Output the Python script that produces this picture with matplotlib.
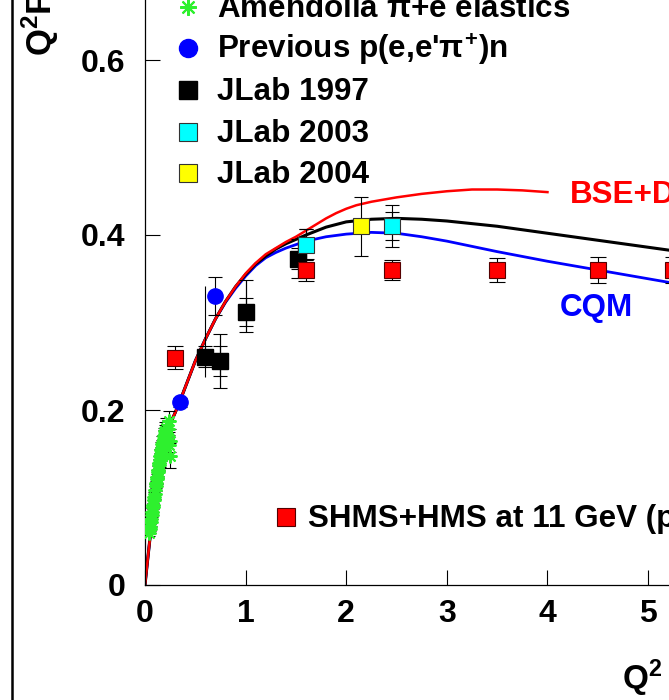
import numpy as np
import matplotlib.pyplot as plt
from matplotlib.lines import Line2D

plt.rcParams['font.family'] = ['Liberation Sans', 'DejaVu Sans']
plt.rcParams['font.weight'] = 'bold'
plt.rcParams['mathtext.fontset'] = 'custom'
plt.rcParams['mathtext.rm'] = 'Liberation Sans:bold'
plt.rcParams['mathtext.bf'] = 'Liberation Sans:bold'
plt.rcParams['mathtext.it'] = 'Liberation Sans:bold'

# model curves
bse_q2 = [0, 0.02, 0.05, 0.1, 0.15, 0.2, 0.25, 0.3, 0.35, 0.4, 0.5, 0.6, 0.7, 0.8, 0.9, 1.0,
          1.1, 1.2, 1.3, 1.4, 1.5, 1.6, 1.7, 1.8, 1.9, 2.0, 2.1, 2.25, 2.5, 2.75, 3.0, 3.25,
          3.5, 3.75, 4.0]
bse_f = [0, 0.022, 0.054, 0.098, 0.133, 0.162, 0.184, 0.197, 0.211, 0.226, 0.256, 0.281, 0.304,
         0.324, 0.341, 0.356, 0.368, 0.378, 0.385, 0.392, 0.398, 0.405, 0.412, 0.419, 0.425,
         0.430, 0.434, 0.438, 0.443, 0.447, 0.450, 0.452, 0.452, 0.451, 0.449]

blk_q2 = [0, 0.02, 0.05, 0.1, 0.15, 0.2, 0.25, 0.3, 0.35, 0.4, 0.5, 0.6, 0.7, 0.8, 0.9, 1.0,
          1.1, 1.2, 1.3, 1.4, 1.5, 1.6, 1.8, 2.0, 2.25, 2.5, 2.75, 3.0, 3.5, 4.0, 4.5, 5.0,
          5.5, 6.0, 6.5]
blk_f = [0, 0.022, 0.054, 0.098, 0.133, 0.162, 0.184, 0.197, 0.211, 0.226, 0.256, 0.281, 0.304,
         0.324, 0.341, 0.355, 0.367, 0.376, 0.384, 0.390, 0.395, 0.400, 0.409, 0.415, 0.418,
         0.419, 0.418, 0.416, 0.410, 0.402, 0.394, 0.386, 0.378, 0.370, 0.362]

cqm_q2 = [0, 0.02, 0.05, 0.1, 0.15, 0.2, 0.25, 0.3, 0.35, 0.4, 0.5, 0.6, 0.7, 0.8, 0.9, 1.0,
          1.1, 1.2, 1.3, 1.4, 1.5, 1.6, 1.8, 2.0, 2.25, 2.5, 2.75, 3.0, 3.5, 4.0, 4.5, 5.0,
          5.5, 6.0, 6.5]
cqm_f = [0, 0.022, 0.054, 0.098, 0.133, 0.162, 0.184, 0.197, 0.211, 0.226, 0.256, 0.281, 0.304,
         0.323, 0.339, 0.353, 0.365, 0.374, 0.380, 0.385, 0.389, 0.393, 0.398, 0.401, 0.403,
         0.402, 0.398, 0.393, 0.381, 0.370, 0.360, 0.350, 0.340, 0.330, 0.320]

# Amendolia pi+e elastic scattering
am_q2 = [0.040, 0.046, 0.052, 0.058, 0.063, 0.067, 0.072, 0.078, 0.083, 0.088, 0.092, 0.097,
         0.103, 0.108, 0.112, 0.117, 0.122, 0.127, 0.133, 0.138, 0.142, 0.147, 0.153, 0.158,
         0.163, 0.168, 0.173, 0.178, 0.184, 0.190, 0.196, 0.203, 0.210, 0.218, 0.226, 0.235,
         0.240, 0.244, 0.250]
am_f = [0.060, 0.064, 0.066, 0.072, 0.075, 0.080, 0.083, 0.089, 0.092, 0.097, 0.101, 0.104,
        0.109, 0.113, 0.117, 0.121, 0.124, 0.129, 0.132, 0.137, 0.140, 0.143, 0.147, 0.150,
        0.154, 0.157, 0.161, 0.163, 0.167, 0.170, 0.173, 0.176, 0.180, 0.171, 0.178, 0.160,
        0.187, 0.148, 0.165]
am_err = [0.004, 0.004, 0.004, 0.004, 0.004, 0.004, 0.005, 0.005, 0.005, 0.005, 0.005, 0.006,
          0.006, 0.006, 0.006, 0.006, 0.007, 0.007, 0.007, 0.007, 0.008, 0.008, 0.008, 0.008,
          0.009, 0.009, 0.009, 0.009, 0.010, 0.010, 0.010, 0.010, 0.011, 0.011, 0.011, 0.012,
          0.012, 0.014, 0.013]

# previous p(e,e'pi+)n
prev_q2 = [0.35, 0.70]
prev_f = [0.209, 0.330]
prev_err = [0.005, 0.022]

# JLab 1997
j97_q2 = [0.60, 0.75, 1.00, 1.52]
j97_f = [0.261, 0.256, 0.312, 0.373]
j97_stat = [0.012, 0.017, 0.016, 0.012]
j97_lo = [0.023, 0.031, 0.023, 0.022]
j97_hi = [0.081, 0.031, 0.037, 0.022]

# JLab 2003
j03_q2 = [1.60, 2.45]
j03_f = [0.389, 0.410]
j03_stat = [0.018, 0.016]
j03_tot = [0.018, 0.024]

# JLab 2004
j04_q2 = [2.15]
j04_f = [0.410]
j04_err = [0.034]

# SHMS+HMS projection
shms_q2 = [0.30, 1.60, 2.45, 3.50, 4.50, 5.25]
shms_f = [0.260, 0.360, 0.360, 0.360, 0.360, 0.360]
shms_err = [0.013, 0.012, 0.011, 0.014, 0.015, 0.015]

fig = plt.figure(figsize=(6.69, 7.0), dpi=100)
ax = fig.add_axes([145 / 669, 115 / 700, 654 / 669, 1.0])
ax.set_xlim(0, 6.5)
ax.set_ylim(0, 0.8)

green = '#2ef02e'

# curves
ax.plot(cqm_q2, cqm_f, color='blue', lw=2.0, zorder=2)
ax.plot(blk_q2, blk_f, color='black', lw=2.2, zorder=2)
ax.plot(bse_q2, bse_f, color='red', lw=1.8, zorder=2)

eb = dict(fmt='none', ecolor='black', elinewidth=0.8, capthick=0.8, zorder=3)

# Amendolia
ax.errorbar(am_q2, am_f, yerr=am_err, capsize=4.5, **eb)
ax.plot(am_q2, am_f, ls='none', marker=(8, 2, 0), ms=10, mew=1.5, color=green, zorder=4)

# JLab 1997
ax.vlines(j97_q2, np.array(j97_f) - np.array(j97_lo), np.array(j97_f) + np.array(j97_hi),
          color='black', lw=0.8, zorder=3)
ax.errorbar(j97_q2[1:], j97_f[1:], yerr=[j97_lo[1:], j97_hi[1:]], capsize=5, **eb)
ax.errorbar(j97_q2, j97_f, yerr=j97_stat, capsize=5, **eb)
ax.plot(j97_q2, j97_f, ls='none', marker='s', ms=11, mfc='black', mec='black', zorder=5)

# previous
ax.errorbar(prev_q2, prev_f, yerr=prev_err, capsize=5, **eb)
ax.plot(prev_q2, prev_f, ls='none', marker='o', ms=11, mfc='blue', mec='blue', zorder=5)

# JLab 2003 / 2004
ax.errorbar(j03_q2, j03_f, yerr=j03_tot, capsize=5, **eb)
ax.errorbar(j03_q2, j03_f, yerr=j03_stat, capsize=5, **eb)
ax.plot(j03_q2, j03_f, ls='none', marker='s', ms=11, mfc='cyan', mec='#333333', mew=0.8, zorder=6)
ax.errorbar(j04_q2, j04_f, yerr=j04_err, capsize=5, **eb)
ax.plot(j04_q2, j04_f, ls='none', marker='s', ms=11, mfc='yellow', mec='#333333', mew=0.8, zorder=6)

# projections
ax.errorbar(shms_q2, shms_f, yerr=shms_err, capsize=6, **eb)
ax.plot(shms_q2, shms_f, ls='none', marker='s', ms=12, mfc='red', mec='#550000', mew=0.8, zorder=5)

# legend block
fs = 22.6
leg_x, txt_x = 0.427, 0.716
rows = [0.661, 0.614, 0.566, 0.518, 0.471]
ax.plot(leg_x, rows[0], marker=(8, 2, 0), ms=12, mew=1.5, color=green, clip_on=False)
ax.plot(leg_x, rows[1], marker='o', ms=13, color='blue', clip_on=False)
ax.plot(leg_x, rows[2], marker='s', ms=13, color='black', clip_on=False)
ax.plot(leg_x, rows[3], marker='s', ms=13, mfc='cyan', mec='#333333', mew=0.8, clip_on=False)
ax.plot(leg_x, rows[4], marker='s', ms=13, mfc='yellow', mec='#333333', mew=0.8, clip_on=False)
labels = [r'Amendolia $\pi$+e elastics', r"Previous p(e,e'$\pi^{+}$)n",
          'JLab 1997', 'JLab 2003', 'JLab 2004']
for y, lab in zip(rows, labels):
    ax.text(txt_x, y - 0.012, lab, fontsize=fs, fontweight='bold', va='baseline', ha='left')

ax.plot(1.40, 0.0777, marker='s', ms=13, mfc='red', mec='#550000', mew=0.8)
ax.text(1.62, 0.0663, 'SHMS+HMS at 11 GeV (projected)', fontsize=fs, fontweight='bold',
        va='baseline', ha='left')

ax.text(4.225, 0.4362, 'BSE+DSE', color='red', fontsize=fs, fontweight='bold', va='baseline')
ax.text(4.125, 0.3078, 'CQM', color='blue', fontsize=fs, fontweight='bold', va='baseline')

# axes styling
for s in ['top', 'right']:
    ax.spines[s].set_visible(False)
for s in ['left', 'bottom']:
    ax.spines[s].set_linewidth(0.9)
ax.set_xticks([0, 1, 2, 3, 4, 5, 6])
ax.set_yticks([0, 0.2, 0.4, 0.6])
ax.set_yticklabels(['0', '0.2', '0.4', '0.6'])
ax.tick_params(direction='in', length=11, width=0.8, labelsize=23)
ax.tick_params(axis='x', pad=10)
ax.tick_params(axis='y', pad=14)
for t in ax.get_xticklabels() + ax.get_yticklabels():
    t.set_fontweight('bold')

fig.text(40 / 669, 1 - 56 / 700, r'$\mathbf{Q^2F_\pi}$', rotation=90, fontsize=25,
         ha='center', va='bottom')
fig.text(622 / 669, 1 - 689 / 700, r'$\mathbf{Q^2}$ (GeV$^2$)', fontsize=24,
         fontweight='bold', ha='left', va='baseline')

fig.add_artist(Line2D([12 / 669, 12 / 669], [0, 1], transform=fig.transFigure,
                      color='black', lw=1.8))

fig.savefig('out.png', dpi=100)
